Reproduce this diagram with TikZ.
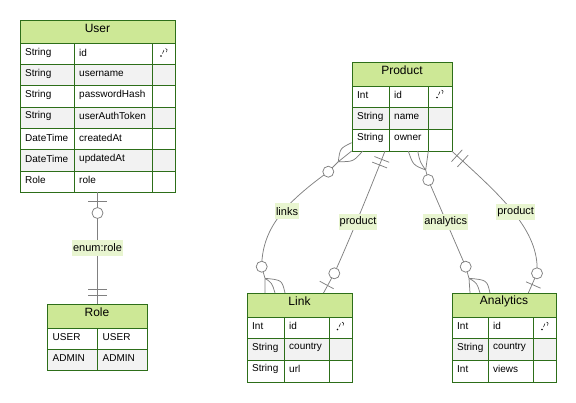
\documentclass[tikz,border=0pt]{standalone}
\usepackage{fontspec}
\setmainfont{Liberation Sans}
\usepackage{tikz}
\definecolor{head}{RGB}{205, 232, 150}
\definecolor{edge}{RGB}{45, 110, 25}
\definecolor{stripe}{RGB}{242, 242, 242}
\definecolor{wire}{RGB}{128, 128, 128}

\begin{document}
\begin{tikzpicture}[x=1pt, y=-1pt,
    cell/.style={anchor=west, inner sep=0pt, font=\fontsize{10}{12}\selectfont},
    title/.style={inner sep=0pt, font=\fontsize{12}{14}\selectfont},
    rel/.style={draw=wire, line width=0.75pt},
    tag/.style={fill=head!45!white, inner xsep=1pt, inner ysep=0pt, minimum height=16pt,
                font=\fontsize{11}{13}\selectfont}]

  \useasboundingbox (0, 0) rectangle (576, 402);

  \begin{scope}[shift={(20, 20)}]
    \pgfmathsetmacro{\rh}{149 / 7}
    \fill[head] (0, 0) rectangle (155, 23);
    \node[title] (user) at (77.5, 8) {User};
    \foreach \n/\ty/\fd in {1/String/id, 2/String/username, 3/String/passwordHash,
        4/String/userAuthToken, 5/DateTime/createdAt, 6/DateTime/updatedAt, 7/Role/role} {
      \pgfmathsetmacro{\yt}{23 + \rh * (\n - 1)}
      \ifodd\n \else \fill[stripe] (0, \yt) rectangle (155, \yt + \rh); \fi
      \node[cell] (user-t\n) at (5, \yt + 9.5) {\ty};
      \node[cell] (user-f\n) at (59, \yt + 9.5) {\fd};
      \draw[edge] (0, \yt) -- (155, \yt);
    }
    \draw[edge] (0, 0) rectangle (155, 172) (54, 23) -- (54, 172) (132, 23) -- (132, 172);
  \end{scope}

  \begin{scope}[shift={(352, 62)}]
    \pgfmathsetmacro{\rh}{65 / 3}
    \fill[head] (0, 0) rectangle (100, 24);
    \node[title] (product) at (50, 8.5) {Product};
    \foreach \n/\ty/\fd in {1/Int/id, 2/String/name, 3/String/owner} {
      \pgfmathsetmacro{\yt}{24 + \rh * (\n - 1)}
      \ifodd\n \else \fill[stripe] (0, \yt) rectangle (100, \yt + \rh); \fi
      \node[cell] (product-t\n) at (5, \yt + 9) {\ty};
      \node[cell] (product-f\n) at (42, \yt + 9) {\fd};
      \draw[edge] (0, \yt) -- (100, \yt);
    }
    \draw[edge] (0, 0) rectangle (100, 89) (37, 24) -- (37, 89) (76, 24) -- (76, 89);
  \end{scope}

  \begin{scope}[shift={(247, 293)}]
    \pgfmathsetmacro{\rh}{65 / 3}
    \fill[head] (0, 0) rectangle (105, 24);
    \node[title] (link) at (52.5, 8.5) {Link};
    \foreach \n/\ty/\fd in {1/Int/id, 2/String/country, 3/String/url} {
      \pgfmathsetmacro{\yt}{24 + \rh * (\n - 1)}
      \ifodd\n \else \fill[stripe] (0, \yt) rectangle (105, \yt + \rh); \fi
      \node[cell] (link-t\n) at (5, \yt + 9) {\ty};
      \node[cell] (link-f\n) at (42, \yt + 9) {\fd};
      \draw[edge] (0, \yt) -- (105, \yt);
    }
    \draw[edge] (0, 0) rectangle (105, 89) (37, 24) -- (37, 89) (82, 24) -- (82, 89);
  \end{scope}

  \begin{scope}[shift={(452, 293)}]
    \pgfmathsetmacro{\rh}{65 / 3}
    \fill[head] (0, 0) rectangle (104, 24);
    \node[title] (analytics) at (52, 8.5) {Analytics};
    \foreach \n/\ty/\fd in {1/Int/id, 2/String/country, 3/Int/views} {
      \pgfmathsetmacro{\yt}{24 + \rh * (\n - 1)}
      \ifodd\n \else \fill[stripe] (0, \yt) rectangle (104, \yt + \rh); \fi
      \node[cell] (analytics-t\n) at (5, \yt + 9) {\ty};
      \node[cell] (analytics-f\n) at (41, \yt + 9) {\fd};
      \draw[edge] (0, \yt) -- (104, \yt);
    }
    \draw[edge] (0, 0) rectangle (104, 89) (36, 24) -- (36, 89) (81, 24) -- (81, 89);
  \end{scope}

  \begin{scope}[shift={(47, 304)}]
    \fill[head] (0, 0) rectangle (100, 24);
    \node[title] (role) at (50, 8.5) {Role};
    \foreach \n/\ty/\fd in {1/USER/USER, 2/ADMIN/ADMIN} {
      \pgfmathsetmacro{\yt}{24 + 21 * (\n - 1)}
      \ifodd\n \else \fill[stripe] (0, \yt) rectangle (100, \yt + 21); \fi
      \node[cell] (role-t\n) at (5.5, \yt + 9) {\ty};
      \node[cell] (role-f\n) at (55.5, \yt + 9) {\fd};
      \draw[edge] (0, \yt) -- (100, \yt);
    }
    \draw[edge] (0, 0) rectangle (100, 66) (50, 24) -- (50, 66);
  \end{scope}

  \foreach \kx/\ky in {164/52.5, 440/94, 340.5/326, 545/326} {
    \fill (\kx - 3, \ky + 3.5) circle (0.8);
    \draw[line width=0.5pt] (\kx - 1.5, \ky + 1) -- (\kx, \ky - 2.5);
    \draw[line width=0.5pt] (\kx + 1.5, \ky - 4) .. controls (\kx + 3.5, \ky - 3) .. (\kx + 2.5, \ky - 0.5);
  }

  \coordinate (ur-a) at (97.5, 192);
  \coordinate (ur-b) at (97.5, 304);
  \draw[rel] (ur-a) -- (ur-b);
  \draw[rel] (88, 201.5) -- (107, 201.5) (88, 289) -- (107, 289) (88, 295) -- (107, 295);
  \draw[rel, fill=white] (97.5, 213) circle (5.5);
  \node[tag] (enumrole) at (97.5, 247.8) {enum:role};

  \coordinate (pl-a) at (338.3, 161.7);
  \coordinate (pl-b) at (265, 278.3);
  \draw[rel] (pl-a) -- (328.3, 171.7) .. controls (290, 200) and (262, 225) .. (261.7, 266.7) -- (pl-b);
  \draw[rel] (pl-a) .. controls (340, 148.3) .. (351.7, 142.7)
             (pl-a) -- (351.7, 151)
             (pl-a) .. controls (353.3, 161.7) .. (362.7, 151);
  \draw[rel] (pl-b) -- (265, 293)
             (pl-b) .. controls (272, 283) .. (275, 293)
             (pl-b) .. controls (282, 280) .. (285, 293);
  \draw[rel, fill=white] (328.3, 171.7) circle (5.5) (261.7, 266.7) circle (5.5);

  \coordinate (lp-a) at (385, 151);
  \coordinate (lp-b) at (323.5, 293);
  \draw[rel] (lp-a) .. controls (368, 195) and (345, 250) .. (334.3, 273.3) -- (lp-b);
  \draw[rel] (374.4, 156.5) -- (389.2, 162.3) (372.2, 162.1) -- (387, 167.9)
             (319.7, 281.2) -- (333.7, 288.8);
  \draw[rel, fill=white] (334.3, 273.3) circle (5.5);

  \coordinate (pa-a) at (425.7, 170);
  \coordinate (pa-b) at (469, 278.3);
  \draw[rel] (pa-a) -- (428.3, 180) -- (465.7, 266.7) -- (pa-b);
  \draw[rel] (pa-a) .. controls (413, 165) .. (408.3, 151)
             (pa-a) .. controls (420, 162) .. (417.7, 151)
             (pa-a) -- (428.3, 151);
  \draw[rel] (pa-b) -- (470, 293)
             (pa-b) .. controls (477, 283) .. (480, 293)
             (pa-b) .. controls (487, 280) .. (490, 293);
  \draw[rel, fill=white] (428.3, 180) circle (5.5) (465.7, 266.7) circle (5.5);

  \coordinate (ap-a) at (451.7, 151);
  \coordinate (ap-b) at (528.3, 293);
  \draw[rel] (ap-a) .. controls (500, 195) and (540, 230) .. (537, 273.3) -- (ap-b);
  \draw[rel] (451.5, 161.6) -- (462.3, 149.8) (457.4, 166.9) -- (468.2, 155.1)
             (526, 281.8) -- (540.6, 288.2);
  \draw[rel, fill=white] (537, 273.3) circle (5.5);

  \node[tag] (links) at (287, 211.3) {links};
  \node[tag] (lprod) at (358, 221.7) {product};
  \node[tag] (anal) at (445.7, 222) {analytics};
  \node[tag] (aprod) at (515.7, 211.7) {product};

\end{tikzpicture}
\end{document}
